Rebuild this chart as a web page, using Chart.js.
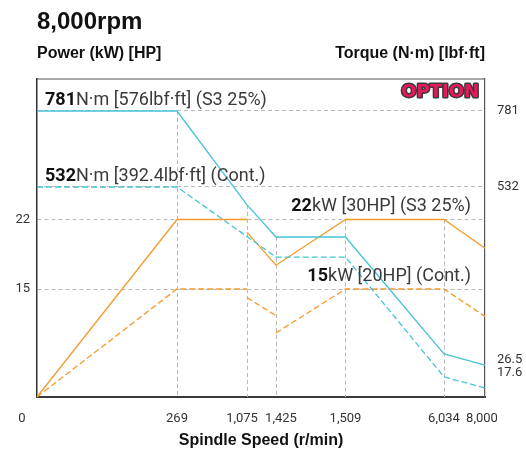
<!DOCTYPE html>
<html>
<head>
<meta charset="utf-8">
<title>8,000rpm</title>
<script src="https://cdn.jsdelivr.net/npm/chart.js@4.4.1/dist/chart.umd.min.js"></script>
<style>
  html, body { margin: 0; padding: 0; background: #fff; }
  #wrap { width: 526px; height: 450px; }
</style>
</head>
<body>
<div id="wrap"><canvas id="chart"></canvas></div>

<script type="text/javascript">
    // spindle speed ticks (r/min) and axis tick values
    var speedTicks = [0, 269, 1075, 1425, 1509, 6034, 8000];
    var speedLabels = ['0', '269', '1,075', '1,425', '1,509', '6,034', '8,000'];
    var powerTicks = [15, 22];
    var torqueTicks = [17.6, 26.5, 532, 781];

    // power (kW), null = break in the curve
    var powerS3Speed = [0, 269, 1075, 1075, 1075, 1425, 1509, 6034, 8000];
    var powerS3 = [0, 22, 22, null, 20.7, 17.4, 22, 22, 19.1];
    var powerContSpeed = [0, 269, 1075, 1075, 1075, 1425, 1425, 1425, 1509, 6034, 8000];
    var powerCont = [0, 15, 15, null, 13.8, 11.3, null, 8.9, 15, 15, 11.2];

    // torque (N·m)
    var torqueS3Speed = [0, 269, 1075, 1425, 1509, 6034, 8000];
    var torqueS3 = [781, 781, 481, 390, 390, 58, 26.5];
    var torqueContSpeed = [0, 269, 1425, 1509, 6034, 8000];
    var torqueCont = [532, 532, 333, 333, 21.9, 17.6];

    var orange = '#f59b2e';
    var cyan = '#46c3d5';
    var gridGray = '#b8b8b8';

    // the chart is drawn on a distorted (schematic) axis: piecewise linear between knots
    class PiecewiseScale extends Chart.LinearScale {
        buildTicks() {
            return this.options.tickValues.map(function (v) { return { value: v }; });
        }
        getPixelForValue(value) {
            var k = this.options.knots;
            var i = 1;
            while (i < k.length - 1 && value > k[i][0]) i++;
            var a = k[i - 1], b = k[i];
            return this.getPixelForDecimal(a[1] + (value - a[0]) / (b[0] - a[0]) * (b[1] - a[1]));
        }
        getValueForPixel(pixel) {
            var d = this.getDecimalForPixel(pixel), k = this.options.knots;
            var i = 1;
            while (i < k.length - 1 && d > k[i][1]) i++;
            var a = k[i - 1], b = k[i];
            return a[0] + (d - a[1]) / (b[1] - a[1]) * (b[0] - a[0]);
        }
        getPixelForTick(index) {
            var p = super.getPixelForTick(index);
            var n = this.options.labelNudge;
            return p + (n && n[index] ? n[index] : 0);
        }
    }
    PiecewiseScale.id = 'piecewise';
    PiecewiseScale.defaults = Chart.LinearScale.defaults;
    Chart.register(PiecewiseScale);

    function series(speeds, vals) {
        return speeds.map(function (s, i) { return { x: s, y: vals[i] }; });
    }

    // dashed drop lines from the highest curve down to the speed axis
    var dropLines = {
        id: 'dropLines',
        beforeDatasetsDraw: function (chart) {
            var ctx = chart.ctx, area = chart.chartArea, xs = chart.scales.x;
            ctx.save();
            ctx.strokeStyle = gridGray;
            ctx.lineWidth = 1;
            ctx.setLineDash([4, 3]);
            speedTicks.slice(1, -1).forEach(function (s) {
                var top = area.bottom;
                chart.data.datasets.forEach(function (ds, di) {
                    var meta = chart.getDatasetMeta(di);
                    meta.data.forEach(function (pt, i) {
                        if (ds.data[i].x === s && ds.data[i].y !== null && pt.y < top) top = pt.y;
                    });
                });
                var px = Math.round(xs.getPixelForValue(s)) + 0.5;
                ctx.beginPath();
                ctx.moveTo(px, top);
                ctx.lineTo(px, area.bottom);
                ctx.stroke();
            });
            ctx.setLineDash([]);
            ctx.strokeStyle = '#555';
            ctx.lineWidth = 1.2;
            ctx.beginPath();
            ctx.moveTo(area.left, area.top);
            ctx.lineTo(area.right, area.top);
            ctx.stroke();
            ctx.restore();
        }
    };

    function richText(ctx, parts, x, y, align) {
        var total = 0;
        parts.forEach(function (p) { ctx.font = p[1]; total += ctx.measureText(p[0]).width; });
        var cx = align === 'right' ? x - total : x;
        ctx.textAlign = 'left';
        parts.forEach(function (p) {
            ctx.font = p[1];
            ctx.fillStyle = p[2];
            ctx.fillText(p[0], cx, y);
            cx += ctx.measureText(p[0]).width;
        });
    }

    var labels = {
        id: 'labels',
        afterDraw: function (chart) {
            var ctx = chart.ctx, area = chart.chartArea;
            var yT = chart.scales.yT, yP = chart.scales.yP;
            var head = 'Liberation Sans, Arial, sans-serif';
            var bold = 'bold 18px Roboto';
            var reg = '18px Roboto';
            ctx.save();
            ctx.textBaseline = 'alphabetic';
            ctx.fillStyle = '#111';
            ctx.font = 'bold 24px ' + head;
            ctx.fillText('8,000rpm', 37, 29);
            ctx.font = 'bold 16px ' + head;
            ctx.fillText('Power (kW) [HP]', 37, 58);
            ctx.textAlign = 'right';
            ctx.fillText('Torque (N·m) [lbf·ft]', area.right, 58);

            // OPTION badge
            ctx.font = 'bold 18px DejaVu Sans';
            ctx.lineJoin = 'round';
            ctx.strokeStyle = '#3a3a3a';
            ctx.lineWidth = 3;
            ctx.strokeText('OPTION', area.right - 6, 97);
            ctx.fillStyle = '#e6195a';
            ctx.fillText('OPTION', area.right - 6, 97);

            richText(ctx, [['781', bold, '#111'], ['N·m [576lbf·ft] (S3 25%)', reg, '#3a3a3a']],
                area.left + 8, yT.getPixelForValue(781) - 6, 'left');
            richText(ctx, [['532', bold, '#111'], ['N·m [392.4lbf·ft] (Cont.)', reg, '#3a3a3a']],
                area.left + 8, yT.getPixelForValue(532) - 6, 'left');
            richText(ctx, [['22', bold, '#111'], ['kW [30HP] (S3 25%)', reg, '#3a3a3a']],
                area.right - 14, yP.getPixelForValue(22) - 8, 'right');
            richText(ctx, [['15', bold, '#111'], ['kW [20HP] (Cont.)', reg, '#3a3a3a']],
                area.right - 14, yP.getPixelForValue(15) - 8, 'right');
            ctx.restore();
        }
    };

    var tickFont = { family: 'Roboto', size: 13 };

    var config = {
        type: 'line',
        data: {
            datasets: [
                {
                    label: 'Torque S3 25%',
                    data: series(torqueS3Speed, torqueS3),
                    yAxisID: 'yT',
                    borderColor: cyan,
                    borderWidth: 1.3,
                    pointRadius: 0,
                    fill: false
                },
                {
                    label: 'Torque Cont.',
                    data: series(torqueContSpeed, torqueCont),
                    yAxisID: 'yT',
                    borderColor: cyan,
                    borderWidth: 1.3,
                    borderDash: [6, 3],
                    pointRadius: 0,
                    fill: false
                },
                {
                    label: 'Power S3 25%',
                    data: series(powerS3Speed, powerS3),
                    yAxisID: 'yP',
                    borderColor: orange,
                    borderWidth: 1.3,
                    pointRadius: 0,
                    fill: false
                },
                {
                    label: 'Power Cont.',
                    data: series(powerContSpeed, powerCont),
                    yAxisID: 'yP',
                    borderColor: orange,
                    borderWidth: 1.3,
                    borderDash: [6, 3],
                    pointRadius: 0,
                    fill: false
                }
            ]
        },
        options: {
            responsive: true,
            maintainAspectRatio: false,
            animation: false,
            spanGaps: false,
            layout: { padding: { top: 79, left: 0, right: 0, bottom: 0 } },
            plugins: { legend: { display: false }, tooltip: { enabled: false } },
            scales: {
                x: {
                    type: 'piecewise',
                    position: 'bottom',
                    knots: [[0, 0], [269, 0.3125], [1075, 0.4688], [1425, 0.5335], [1509, 0.6886], [6034, 0.9085], [8000, 1]],
                    tickValues: speedTicks,
                    labelNudge: [-15, 0, -5, 5, 0, 0, -3],
                    grid: { display: false },
                    border: { display: true, color: '#3a3a3a', width: 2 },
                    ticks: {
                        autoSkip: false, maxRotation: 0, padding: 6, color: '#333', font: tickFont,
                        callback: function (v, i) { return speedLabels[i]; }
                    },
                    title: {
                        display: true, text: 'Spindle Speed (r/min)', color: '#111',
                        font: { family: 'Liberation Sans', weight: 'bold', size: 16 }, padding: { top: 6, bottom: 0 }
                    },
                    afterFit: function (s) { s.height = 53; }
                },
                yP: {
                    type: 'piecewise',
                    position: 'left',
                    knots: [[0, 0], [15, 0.3396], [22, 0.5582], [40, 1]],
                    tickValues: powerTicks,
                    grid: { color: gridGray, lineWidth: 1, drawTicks: false },
                    border: { display: true, color: '#333', width: 1.5, dash: [4, 3] },
                    ticks: { padding: 7, color: '#333', font: tickFont, callback: function (v) { return String(v); } },
                    afterFit: function (s) { s.width = 37; }
                },
                yT: {
                    type: 'piecewise',
                    position: 'right',
                    knots: [[0, 0], [17.6, 0.0283], [26.5, 0.1006], [532, 0.6604], [781, 0.8994], [1100, 1]],
                    tickValues: torqueTicks,
                    labelNudge: [-15, -5, 0, 0],
                    grid: {
                        color: function (c) { return c.tick && c.tick.value > 100 ? gridGray : 'transparent'; },
                        lineWidth: 1, drawTicks: false
                    },
                    border: { display: true, color: '#555', width: 1.2, dash: [4, 3] },
                    ticks: { padding: 12, color: '#333', font: tickFont, callback: function (v) { return String(v); } },
                    afterFit: function (s) { s.width = 41; }
                }
            }
        },
        plugins: [dropLines, labels]
    };

    var ctx = document.getElementById('chart').getContext('2d');
    var chart = new Chart(ctx, config);
</script>
</body>
</html>
